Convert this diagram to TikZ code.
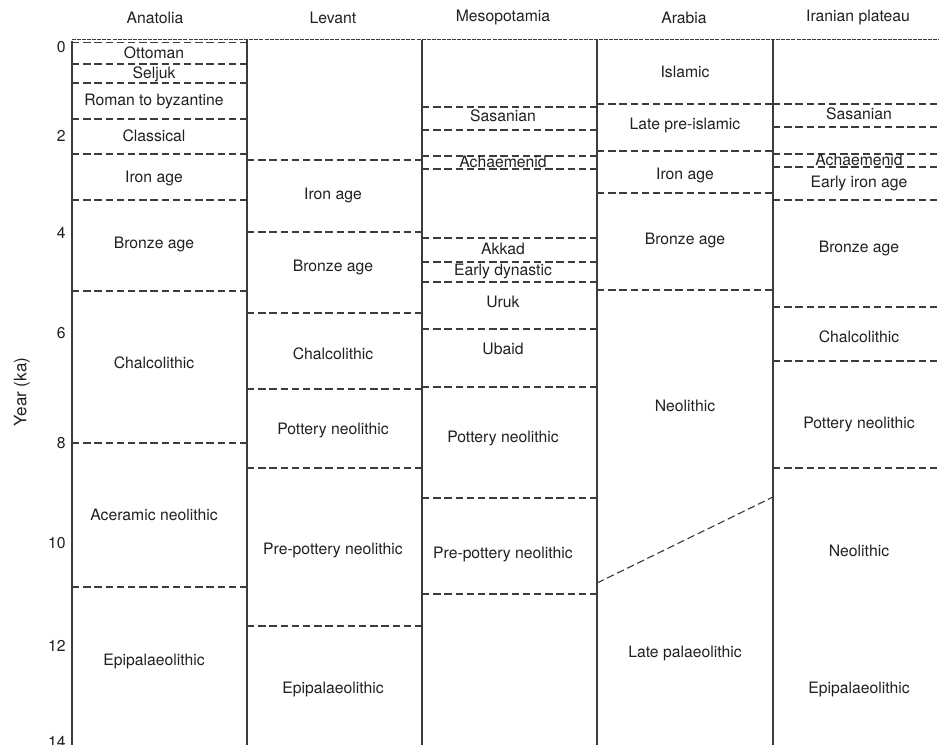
\documentclass[tikz,border=0pt]{standalone}
\usepackage{fontspec}
\setmainfont{TeX Gyre Heros}
\usepackage{tikz}
\definecolor{linec}{RGB}{60,60,60}
\definecolor{txtc}{RGB}{35,31,32}

\begin{document}
\begin{tikzpicture}[x=0.75pt,y=0.75pt,yscale=-1,xscale=1,
  lbl/.style={font=\fontsize{11.8}{14}\selectfont, text=txtc, inner sep=0.75pt},
  sep/.style={draw=linec, line width=0.85, dash pattern={on 5.6pt off 2.8pt}},
  rule/.style={draw=linec, line width=1.05}]
  \useasboundingbox (0,0) rectangle (939,745);

  %Straight Lines: top rule
  \draw [draw=linec, line width=0.6, dash pattern={on 3pt off 0.8pt}] (72,39) -- (939,39) ;
  %Straight Lines: column borders
  \draw [rule] (72,41) -- (72,745) ;
  \draw [rule] (247,40) -- (247,745) ;
  \draw [rule] (422,40) -- (422,745) ;
  \draw [rule] (597,40) -- (597,745) ;
  \draw [rule] (773,40) -- (773,745) ;

  % Anatolia boundaries
  \draw [sep] (72,42.5) -- (247,42.5) ;
  \draw [sep] (72,64) -- (247,64) ;
  \draw [sep] (72,83) -- (247,83) ;
  \draw [sep] (72,119) -- (247,119) ;
  \draw [sep] (72,154) -- (247,154) ;
  \draw [sep] (72,200) -- (247,200) ;
  \draw [sep] (72,291) -- (247,291) ;
  \draw [sep] (72,443) -- (247,443) ;
  \draw [sep] (72,587) -- (247,587) ;
  % Levant boundaries
  \draw [sep] (247,160) -- (422,160) ;
  \draw [sep] (247,232) -- (422,232) ;
  \draw [sep] (247,313) -- (422,313) ;
  \draw [sep] (247,389) -- (422,389) ;
  \draw [sep] (247,468) -- (422,468) ;
  \draw [sep] (247,626) -- (422,626) ;
  % Mesopotamia boundaries
  \draw [sep] (422,107) -- (597,107) ;
  \draw [sep] (422,130) -- (597,130) ;
  \draw [sep] (422,156) -- (597,156) ;
  \draw [sep] (422,169) -- (597,169) ;
  \draw [sep] (422,238) -- (597,238) ;
  \draw [sep] (422,262) -- (597,262) ;
  \draw [sep] (422,282) -- (597,282) ;
  \draw [sep] (422,329) -- (597,329) ;
  \draw [sep] (422,387) -- (597,387) ;
  \draw [sep] (422,498) -- (597,498) ;
  \draw [sep] (422,594) -- (597,594) ;
  % Arabia boundaries
  \draw [sep] (597,104) -- (773,104) ;
  \draw [sep] (597,151) -- (773,151) ;
  \draw [sep] (597,193) -- (773,193) ;
  \draw [sep] (597,290) -- (773,290) ;
  \draw [sep] (597,583) -- (773,497) ;
  % Iranian plateau boundaries
  \draw [sep] (773,104) -- (939,104) ;
  \draw [sep] (773,127) -- (939,127) ;
  \draw [sep] (773,154) -- (939,154) ;
  \draw [sep] (773,167) -- (939,167) ;
  \draw [sep] (773,200) -- (939,200) ;
  \draw [sep] (773,307) -- (939,307) ;
  \draw [sep] (773,361) -- (939,361) ;
  \draw [sep] (773,468) -- (939,468) ;

  % Text Node: headers
  \draw (155,18) node (hAna) [lbl] {Anatolia};
  \draw (333,18) node (hLev) [lbl] {Levant};
  \draw (503,17) node (hMes) [lbl] {Mesopotamia};
  \draw (684,18) node (hAra) [lbl] {Arabia};
  \draw (858,17) node (hIra) [lbl] {Iranian plateau};

  % Text Node: axis
  \draw (22,392) node (yTitle) [lbl, font=\fontsize{12.8}{15}\selectfont, rotate=90] {Year (ka)};
  \draw (67,47) node (t0) [lbl, anchor=east] {0};
  \draw (67,136) node (t2) [lbl, anchor=east] {2};
  \draw (67,233) node (t4) [lbl, anchor=east] {4};
  \draw (67,333) node (t6) [lbl, anchor=east] {6};
  \draw (67,443) node (t8) [lbl, anchor=east] {8};
  \draw (67,543) node (t10) [lbl, anchor=east] {10};
  \draw (67,646) node (t12) [lbl, anchor=east] {12};
  \draw (67,742) node (t14) [lbl, anchor=east] {14};

  % Text Node: Anatolia
  \draw (154,53) node (anaOtt) [lbl] {Ottoman};
  \draw (154,74) node (anaSel) [lbl] {Seljuk};
  \draw (154,101) node (anaRom) [lbl] {Roman to byzantine};
  \draw (154,136) node (anaCla) [lbl] {Classical};
  \draw (154,178) node (anaIro) [lbl] {Iron age};
  \draw (154,244) node (anaBro) [lbl] {Bronze age};
  \draw (154,363) node (anaCha) [lbl] {Chalcolithic};
  \draw (154,515) node (anaAce) [lbl] {Aceramic neolithic};
  \draw (154,661) node (anaEpi) [lbl] {Epipalaeolithic};
  % Text Node: Levant
  \draw (333,195) node (levIro) [lbl] {Iron age};
  \draw (333,267) node (levBro) [lbl] {Bronze age};
  \draw (333,354) node (levCha) [lbl] {Chalcolithic};
  \draw (333,430) node (levPot) [lbl] {Pottery neolithic};
  \draw (333,550) node (levPPN) [lbl] {Pre-pottery neolithic};
  \draw (333,689) node (levEpi) [lbl] {Epipalaeolithic};
  % Text Node: Mesopotamia
  \draw (503,116) node (mesSas) [lbl] {Sasanian};
  \draw (503,162) node (mesAch) [lbl] {Achaemenid};
  \draw (503,249) node (mesAkk) [lbl] {Akkad};
  \draw (503,271) node (mesEar) [lbl] {Early dynastic};
  \draw (503,302) node (mesUru) [lbl] {Uruk};
  \draw (503,349) node (mesUba) [lbl] {Ubaid};
  \draw (503,438) node (mesPot) [lbl] {Pottery neolithic};
  \draw (503,554) node (mesPPN) [lbl] {Pre-pottery neolithic};
  % Text Node: Arabia
  \draw (685,72) node (araIsl) [lbl] {Islamic};
  \draw (685,125) node (araPre) [lbl] {Late pre-islamic};
  \draw (685,175) node (araIro) [lbl] {Iron age};
  \draw (685,240) node (araBro) [lbl] {Bronze age};
  \draw (685,406) node (araNeo) [lbl] {Neolithic};
  \draw (685,653) node (araLat) [lbl] {Late palaeolithic};
  % Text Node: Iranian plateau
  \draw (859,114) node (iraSas) [lbl] {Sasanian};
  \draw (859,160) node (iraAch) [lbl] {Achaemenid};
  \draw (859,183) node (iraIro) [lbl] {Early iron age};
  \draw (859,248) node (iraBro) [lbl] {Bronze age};
  \draw (859,337) node (iraCha) [lbl] {Chalcolithic};
  \draw (859,424) node (iraPot) [lbl] {Pottery neolithic};
  \draw (859,551) node (iraNeo) [lbl] {Neolithic};
  \draw (859,689) node (iraEpi) [lbl] {Epipalaeolithic};
\end{tikzpicture}
\end{document}
